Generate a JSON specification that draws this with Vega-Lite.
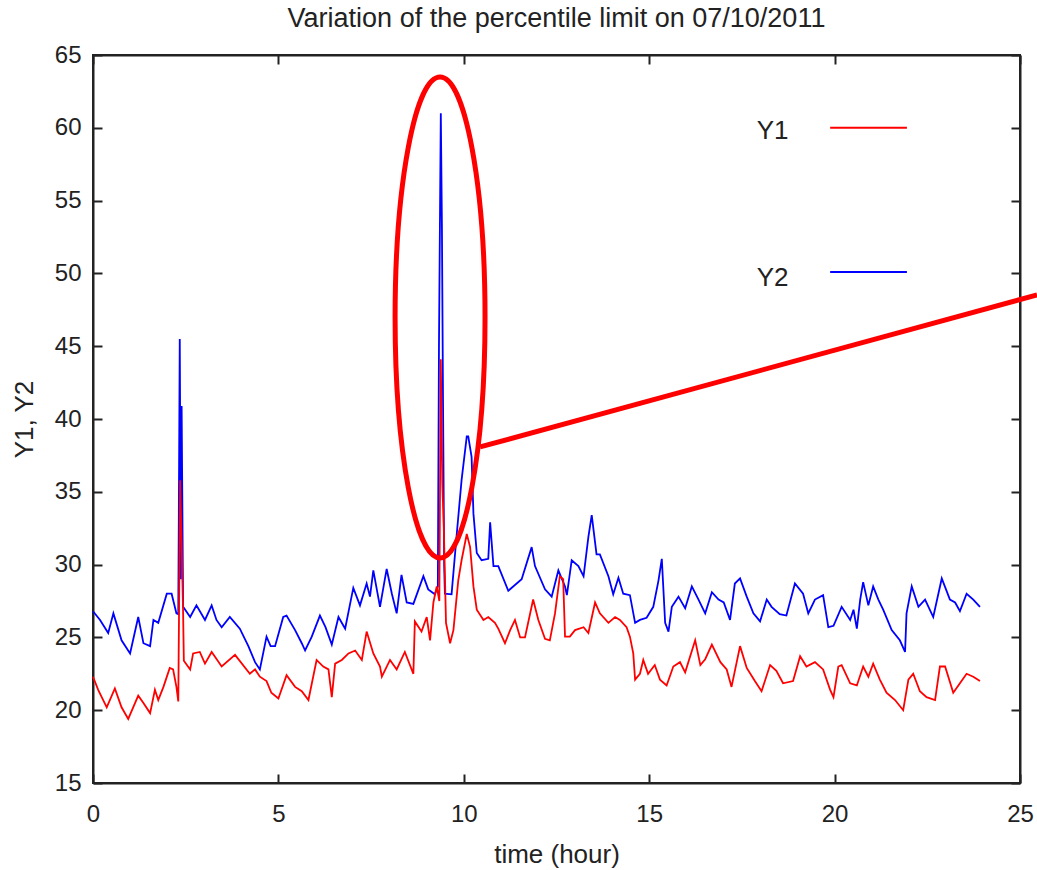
{
  "$schema": "https://vega.github.io/schema/vega-lite/v6.json",
  "width": 927,
  "height": 728,
  "autosize": {"type": "none"},
  "padding": {"left": 93, "top": 55, "right": 17, "bottom": 87},
  "background": "white",
  "title": {
    "text": "Variation of the percentile limit on 07/10/2011",
    "fontSize": 27,
    "fontWeight": "normal",
    "font": "Liberation Sans",
    "color": "#222222",
    "anchor": "middle",
    "frame": "group",
    "offset": 10
  },
  "config": {
    "view": {"stroke": "#222222", "strokeWidth": 2},
    "axis": {
      "labelFont": "Liberation Sans",
      "titleFont": "Liberation Sans",
      "labelFontSize": 24,
      "titleFontSize": 26,
      "titleFontWeight": "normal",
      "labelColor": "#222222",
      "titleColor": "#222222",
      "domainColor": "#222222",
      "domainWidth": 2,
      "tickColor": "#222222",
      "tickWidth": 2,
      "grid": false,
      "labelFlush": false,
      "labelOverlap": false
    }
  },
  "datasets": {
    "y1": [
      {"t": 0, "v": 22.3}, {"t": 0.14, "v": 21.4}, {"t": 0.37, "v": 20.2}, {"t": 0.59, "v": 21.5}, {"t": 0.77, "v": 20.2},
      {"t": 0.95, "v": 19.4}, {"t": 1.22, "v": 21.0}, {"t": 1.36, "v": 20.5}, {"t": 1.54, "v": 19.8}, {"t": 1.67, "v": 21.4},
      {"t": 1.76, "v": 20.7}, {"t": 1.9, "v": 21.6}, {"t": 2.07, "v": 22.9}, {"t": 2.16, "v": 22.8}, {"t": 2.25, "v": 21.6},
      {"t": 2.3, "v": 20.6}, {"t": 2.35, "v": 35.8}, {"t": 2.39, "v": 31.5}, {"t": 2.43, "v": 26.7}, {"t": 2.45, "v": 23.4},
      {"t": 2.62, "v": 22.8}, {"t": 2.7, "v": 23.9}, {"t": 2.88, "v": 24.0}, {"t": 3.02, "v": 23.2}, {"t": 3.2, "v": 24.0},
      {"t": 3.47, "v": 23.0}, {"t": 3.83, "v": 23.8}, {"t": 4.23, "v": 22.5}, {"t": 4.37, "v": 22.8}, {"t": 4.5, "v": 22.3},
      {"t": 4.68, "v": 22.0}, {"t": 4.81, "v": 21.2}, {"t": 5.0, "v": 20.8}, {"t": 5.22, "v": 22.4}, {"t": 5.45, "v": 21.6},
      {"t": 5.63, "v": 21.3}, {"t": 5.81, "v": 20.7}, {"t": 6.03, "v": 23.45}, {"t": 6.21, "v": 23.0}, {"t": 6.35, "v": 22.8},
      {"t": 6.44, "v": 20.9}, {"t": 6.53, "v": 23.2}, {"t": 6.71, "v": 23.45}, {"t": 6.89, "v": 23.9}, {"t": 7.07, "v": 24.1},
      {"t": 7.25, "v": 23.45}, {"t": 7.38, "v": 25.4}, {"t": 7.56, "v": 23.9}, {"t": 7.74, "v": 23.0}, {"t": 7.79, "v": 22.3},
      {"t": 8.01, "v": 23.45}, {"t": 8.19, "v": 22.8}, {"t": 8.41, "v": 24.0}, {"t": 8.64, "v": 22.5}, {"t": 8.68, "v": 26.1},
      {"t": 8.86, "v": 25.4}, {"t": 9.0, "v": 26.4}, {"t": 9.09, "v": 24.8}, {"t": 9.18, "v": 27.4}, {"t": 9.27, "v": 28.5},
      {"t": 9.34, "v": 27.5}, {"t": 9.38, "v": 44.1}, {"t": 9.42, "v": 35.6}, {"t": 9.46, "v": 32.6}, {"t": 9.52, "v": 26.0},
      {"t": 9.63, "v": 24.6}, {"t": 9.72, "v": 25.5}, {"t": 9.85, "v": 28.9}, {"t": 9.94, "v": 30.3}, {"t": 10.08, "v": 32.1},
      {"t": 10.17, "v": 31.2}, {"t": 10.26, "v": 28.5}, {"t": 10.35, "v": 26.9}, {"t": 10.53, "v": 26.2}, {"t": 10.66, "v": 26.4},
      {"t": 10.84, "v": 26.0}, {"t": 10.93, "v": 25.6}, {"t": 11.11, "v": 24.6}, {"t": 11.25, "v": 25.5}, {"t": 11.38, "v": 26.2},
      {"t": 11.52, "v": 25.0}, {"t": 11.65, "v": 25.0}, {"t": 11.87, "v": 27.6}, {"t": 12.01, "v": 26.2}, {"t": 12.19, "v": 24.9},
      {"t": 12.32, "v": 24.8}, {"t": 12.46, "v": 26.65}, {"t": 12.59, "v": 29.2}, {"t": 12.68, "v": 29.0}, {"t": 12.73, "v": 25.05},
      {"t": 12.86, "v": 25.05}, {"t": 13.0, "v": 25.5}, {"t": 13.23, "v": 25.7}, {"t": 13.36, "v": 25.3}, {"t": 13.54, "v": 27.4},
      {"t": 13.67, "v": 26.65}, {"t": 13.9, "v": 26.0}, {"t": 14.08, "v": 26.4}, {"t": 14.21, "v": 26.2}, {"t": 14.39, "v": 25.7},
      {"t": 14.48, "v": 25.05}, {"t": 14.57, "v": 23.9}, {"t": 14.62, "v": 22.1}, {"t": 14.75, "v": 22.5}, {"t": 14.84, "v": 23.45},
      {"t": 14.97, "v": 22.5}, {"t": 15.15, "v": 23.1}, {"t": 15.29, "v": 22.1}, {"t": 15.47, "v": 21.7}, {"t": 15.65, "v": 23.0},
      {"t": 15.83, "v": 23.3}, {"t": 15.97, "v": 22.6}, {"t": 16.24, "v": 24.8}, {"t": 16.38, "v": 23.1}, {"t": 16.51, "v": 23.5},
      {"t": 16.69, "v": 24.5}, {"t": 16.92, "v": 23.3}, {"t": 17.09, "v": 22.8}, {"t": 17.22, "v": 21.6}, {"t": 17.45, "v": 24.4},
      {"t": 17.63, "v": 22.9}, {"t": 17.85, "v": 22.0}, {"t": 18.03, "v": 21.3}, {"t": 18.26, "v": 23.1}, {"t": 18.43, "v": 22.7},
      {"t": 18.61, "v": 21.85}, {"t": 18.88, "v": 22.0}, {"t": 19.07, "v": 23.7}, {"t": 19.24, "v": 23.0}, {"t": 19.47, "v": 23.3},
      {"t": 19.69, "v": 22.8}, {"t": 19.88, "v": 21.4}, {"t": 19.97, "v": 20.9}, {"t": 20.1, "v": 23.0}, {"t": 20.19, "v": 23.1},
      {"t": 20.42, "v": 21.85}, {"t": 20.6, "v": 21.7}, {"t": 20.77, "v": 23.0}, {"t": 20.91, "v": 22.3}, {"t": 21.04, "v": 23.2},
      {"t": 21.22, "v": 22.1}, {"t": 21.4, "v": 21.2}, {"t": 21.63, "v": 20.7}, {"t": 21.85, "v": 20.0}, {"t": 21.99, "v": 22.1},
      {"t": 22.12, "v": 22.5}, {"t": 22.3, "v": 21.3}, {"t": 22.48, "v": 20.9}, {"t": 22.71, "v": 20.7}, {"t": 22.84, "v": 23.0},
      {"t": 22.98, "v": 23.0}, {"t": 23.2, "v": 21.2}, {"t": 23.38, "v": 21.85}, {"t": 23.56, "v": 22.5}, {"t": 23.74, "v": 22.3},
      {"t": 23.92, "v": 22.0}
    ],
    "y2": [
      {"t": 0, "v": 26.8}, {"t": 0.19, "v": 26.2}, {"t": 0.41, "v": 25.3}, {"t": 0.55, "v": 26.65}, {"t": 0.77, "v": 24.8},
      {"t": 1.0, "v": 23.9}, {"t": 1.22, "v": 26.4}, {"t": 1.36, "v": 24.6}, {"t": 1.54, "v": 24.4}, {"t": 1.63, "v": 26.2},
      {"t": 1.76, "v": 26.0}, {"t": 1.99, "v": 28.0}, {"t": 2.12, "v": 28.0}, {"t": 2.25, "v": 26.65}, {"t": 2.3, "v": 26.6},
      {"t": 2.34, "v": 45.5}, {"t": 2.37, "v": 29.0}, {"t": 2.39, "v": 40.9}, {"t": 2.43, "v": 27.1}, {"t": 2.62, "v": 26.4},
      {"t": 2.79, "v": 27.2}, {"t": 3.02, "v": 26.2}, {"t": 3.2, "v": 27.2}, {"t": 3.33, "v": 26.2}, {"t": 3.47, "v": 25.7},
      {"t": 3.69, "v": 26.4}, {"t": 3.96, "v": 25.6}, {"t": 4.19, "v": 24.4}, {"t": 4.37, "v": 23.3}, {"t": 4.5, "v": 22.8},
      {"t": 4.68, "v": 25.05}, {"t": 4.79, "v": 24.4}, {"t": 4.91, "v": 24.4}, {"t": 5.13, "v": 26.4}, {"t": 5.22, "v": 26.5},
      {"t": 5.45, "v": 25.5}, {"t": 5.63, "v": 24.6}, {"t": 5.72, "v": 24.1}, {"t": 5.9, "v": 25.05}, {"t": 6.12, "v": 26.5},
      {"t": 6.27, "v": 25.7}, {"t": 6.44, "v": 24.5}, {"t": 6.62, "v": 26.4}, {"t": 6.8, "v": 25.6}, {"t": 7.02, "v": 28.4},
      {"t": 7.2, "v": 27.2}, {"t": 7.38, "v": 28.7}, {"t": 7.47, "v": 27.8}, {"t": 7.56, "v": 29.6}, {"t": 7.74, "v": 27.1},
      {"t": 7.92, "v": 29.7}, {"t": 8.06, "v": 28.0}, {"t": 8.19, "v": 26.65}, {"t": 8.32, "v": 29.3}, {"t": 8.46, "v": 27.4},
      {"t": 8.64, "v": 27.3}, {"t": 8.91, "v": 29.2}, {"t": 9.04, "v": 28.3}, {"t": 9.22, "v": 27.96}, {"t": 9.3, "v": 28.5},
      {"t": 9.33, "v": 44.9}, {"t": 9.38, "v": 61.0}, {"t": 9.41, "v": 53.2}, {"t": 9.44, "v": 41.1}, {"t": 9.47, "v": 30.0},
      {"t": 9.49, "v": 28.0}, {"t": 9.67, "v": 27.96}, {"t": 9.81, "v": 32.1}, {"t": 9.94, "v": 35.8}, {"t": 10.08, "v": 38.8},
      {"t": 10.12, "v": 38.8}, {"t": 10.21, "v": 37.4}, {"t": 10.26, "v": 33.5}, {"t": 10.35, "v": 30.8}, {"t": 10.48, "v": 30.3},
      {"t": 10.66, "v": 30.4}, {"t": 10.71, "v": 32.9}, {"t": 10.8, "v": 29.9}, {"t": 10.93, "v": 29.9}, {"t": 11.2, "v": 28.2},
      {"t": 11.56, "v": 29.0}, {"t": 11.83, "v": 31.2}, {"t": 11.92, "v": 29.9}, {"t": 12.19, "v": 28.3}, {"t": 12.37, "v": 27.8},
      {"t": 12.55, "v": 29.6}, {"t": 12.73, "v": 28.5}, {"t": 12.78, "v": 27.9}, {"t": 12.91, "v": 30.3}, {"t": 13.09, "v": 29.9},
      {"t": 13.23, "v": 29.2}, {"t": 13.36, "v": 31.9}, {"t": 13.45, "v": 33.4}, {"t": 13.58, "v": 30.7}, {"t": 13.67, "v": 30.7},
      {"t": 13.9, "v": 29.2}, {"t": 14.03, "v": 27.96}, {"t": 14.17, "v": 29.1}, {"t": 14.3, "v": 28.0}, {"t": 14.48, "v": 27.9},
      {"t": 14.62, "v": 26.0}, {"t": 14.75, "v": 26.2}, {"t": 14.93, "v": 26.35}, {"t": 15.11, "v": 27.1}, {"t": 15.25, "v": 28.9},
      {"t": 15.34, "v": 30.4}, {"t": 15.43, "v": 26.0}, {"t": 15.52, "v": 25.4}, {"t": 15.61, "v": 27.1}, {"t": 15.79, "v": 27.8},
      {"t": 15.97, "v": 27.0}, {"t": 16.15, "v": 28.5}, {"t": 16.33, "v": 27.6}, {"t": 16.51, "v": 26.65}, {"t": 16.69, "v": 28.1},
      {"t": 16.87, "v": 27.6}, {"t": 17.01, "v": 27.4}, {"t": 17.18, "v": 26.2}, {"t": 17.31, "v": 28.7}, {"t": 17.45, "v": 29.05},
      {"t": 17.63, "v": 27.8}, {"t": 17.81, "v": 26.65}, {"t": 17.99, "v": 26.1}, {"t": 18.17, "v": 27.6}, {"t": 18.3, "v": 27.1},
      {"t": 18.52, "v": 26.6}, {"t": 18.7, "v": 26.5}, {"t": 18.93, "v": 28.7}, {"t": 19.15, "v": 28.0}, {"t": 19.29, "v": 26.65},
      {"t": 19.47, "v": 27.6}, {"t": 19.69, "v": 27.9}, {"t": 19.83, "v": 25.7}, {"t": 19.97, "v": 25.8}, {"t": 20.19, "v": 27.1},
      {"t": 20.42, "v": 26.2}, {"t": 20.51, "v": 26.9}, {"t": 20.6, "v": 25.6}, {"t": 20.69, "v": 27.6}, {"t": 20.77, "v": 28.8},
      {"t": 20.91, "v": 27.2}, {"t": 21.04, "v": 28.5}, {"t": 21.18, "v": 27.6}, {"t": 21.31, "v": 26.9}, {"t": 21.54, "v": 25.5},
      {"t": 21.76, "v": 24.8}, {"t": 21.9, "v": 24.0}, {"t": 21.94, "v": 26.65}, {"t": 22.08, "v": 28.5}, {"t": 22.26, "v": 27.1},
      {"t": 22.44, "v": 27.6}, {"t": 22.66, "v": 26.4}, {"t": 22.89, "v": 29.05}, {"t": 23.11, "v": 27.6}, {"t": 23.25, "v": 27.4},
      {"t": 23.38, "v": 26.8}, {"t": 23.56, "v": 28.0}, {"t": 23.74, "v": 27.6}, {"t": 23.92, "v": 27.1}
    ],
    "legendText": [
      {"t": 17.9, "v": 59.8, "label": "Y1"},
      {"t": 17.9, "v": 49.7, "label": "Y2"}
    ],
    "legendLines": [
      {"t": 19.88, "t2": 21.95, "v": 60.0, "series": "Y1"},
      {"t": 19.88, "t2": 21.95, "v": 50.1, "series": "Y2"}
    ],
    "ellipse": [{"t": 9.36, "v": 46.97}],
    "pointer": [{"t": 10.44, "v": 38.08}, {"t": 25.46, "v": 48.52}]
  },
  "resolve": {"axis": {"x": "independent", "y": "independent"}},
  "layer": [
    {
      "data": {"name": "y2"},
      "mark": {"type": "line", "color": "#0000ff", "strokeWidth": 1.8},
      "encoding": {
        "x": {
          "field": "t", "type": "quantitative",
          "scale": {"domain": [0, 25], "nice": false},
          "axis": {"orient": "bottom", "title": "time (hour)", "values": [0, 5, 10, 15, 20, 25], "tickSize": -9, "labelPadding": 28, "titlePadding": 15}
        },
        "y": {
          "field": "v", "type": "quantitative",
          "scale": {"domain": [15, 65], "nice": false, "zero": false},
          "axis": {"orient": "left", "title": "Y1, Y2", "values": [15, 20, 25, 30, 35, 40, 45, 50, 55, 60, 65], "tickSize": -9, "labelPadding": 21, "titlePadding": 17, "labelBaseline": "middle"}
        }
      }
    },
    {
      "data": {"name": "y1"},
      "mark": {"type": "line", "color": "#ff0000", "strokeWidth": 1.8},
      "encoding": {
        "x": {
          "field": "t", "type": "quantitative",
          "axis": {"orient": "top", "title": null, "labels": false, "values": [0, 5, 10, 15, 20, 25], "tickSize": -9}
        },
        "y": {
          "field": "v", "type": "quantitative",
          "axis": {"orient": "right", "title": null, "labels": false, "values": [15, 20, 25, 30, 35, 40, 45, 50, 55, 60, 65], "tickSize": -9}
        }
      }
    },
    {
      "data": {"name": "legendText"},
      "mark": {"type": "text", "align": "left", "baseline": "middle", "fontSize": 26, "font": "Liberation Sans", "color": "#222222"},
      "encoding": {
        "x": {"field": "t", "type": "quantitative", "axis": null},
        "y": {"field": "v", "type": "quantitative", "axis": null},
        "text": {"field": "label"}
      }
    },
    {
      "data": {"name": "legendLines"},
      "mark": {"type": "rule", "strokeWidth": 2},
      "encoding": {
        "x": {"field": "t", "type": "quantitative", "axis": null},
        "x2": {"field": "t2"},
        "y": {"field": "v", "type": "quantitative", "axis": null},
        "color": {"field": "series", "type": "nominal", "scale": {"domain": ["Y1", "Y2"], "range": ["#ff0000", "#0000ff"]}, "legend": null}
      }
    },
    {
      "data": {"name": "ellipse"},
      "mark": {
        "type": "point",
        "shape": "M0,-1C0.1033,-1,0.187,-0.5523,0.187,0C0.187,0.5523,0.1033,1,0,1C-0.1033,1,-0.187,0.5523,-0.187,0C-0.187,-0.5523,-0.1033,-1,0,-1Z",
        "size": 231361,
        "filled": false,
        "stroke": "#ff0000",
        "strokeWidth": 5,
        "opacity": 1
      },
      "encoding": {
        "x": {"field": "t", "type": "quantitative", "axis": null},
        "y": {"field": "v", "type": "quantitative", "axis": null}
      }
    },
    {
      "data": {"name": "pointer"},
      "mark": {"type": "line", "color": "#ff0000", "strokeWidth": 5, "clip": false},
      "encoding": {
        "x": {"field": "t", "type": "quantitative", "axis": null},
        "y": {"field": "v", "type": "quantitative", "axis": null}
      }
    }
  ]
}
